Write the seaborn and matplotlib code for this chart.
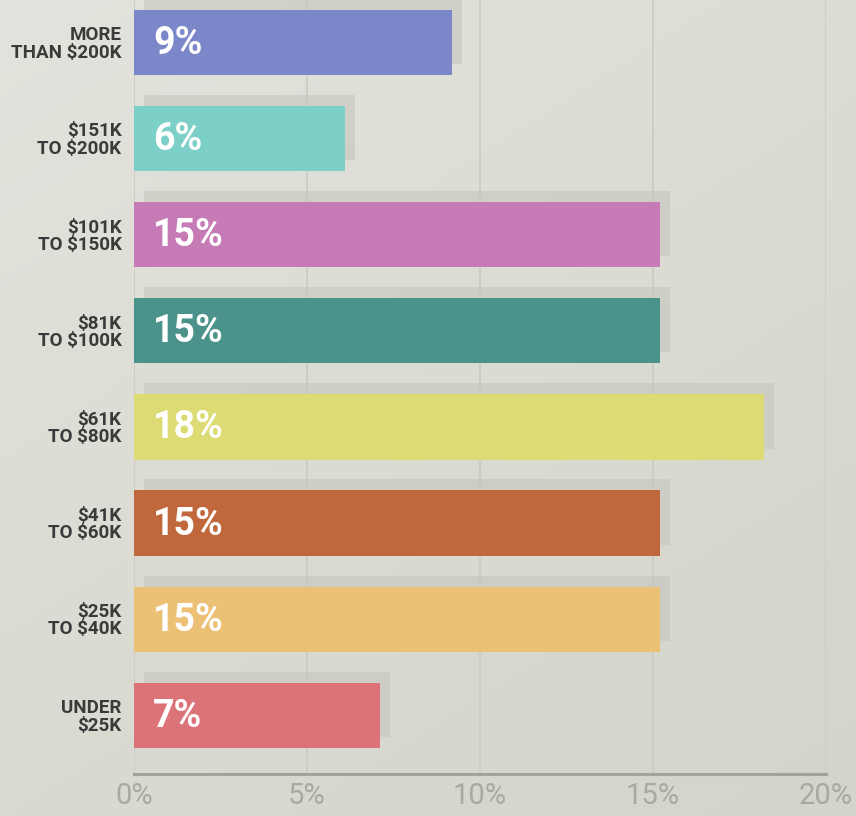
import numpy as np
import pandas as pd
import matplotlib.pyplot as plt
import matplotlib.transforms as mtransforms
from matplotlib.colors import LinearSegmentedColormap
import seaborn as sns

# Data
categories = ["MORE\nTHAN $200K", "$151K\nTO $200K", "$101K\nTO $150K", "$81K\nTO $100K",
              "$61K\nTO $80K", "$41K\nTO $60K", "$25K\nTO $40K", "UNDER\n$25K"]
shares = [9.2, 6.1, 15.2, 15.2, 18.2, 15.2, 15.2, 7.1]
share_labels = ["9%", "6%", "15%", "15%", "18%", "15%", "15%", "7%"]
bar_colors = ["#7b87c9", "#7dd0c8", "#c77bb6", "#4b938a",
              "#dcdb74", "#c0683b", "#ecc175", "#db7378"]
tick_values = [0, 5, 10, 15, 20]

df = pd.DataFrame({"band": categories, "share": shares})

sns.set_theme(style="white")
plt.rcParams['font.family'] = ['Roboto', 'DejaVu Sans']

fig = plt.figure(figsize=(8.56, 8.16), dpi=100)

# soft paper-like background
bg = fig.add_axes([0, 0, 1, 1], zorder=-5)
yy, xx = np.mgrid[0:1:200j, 0:1:200j]
grad = 0.6 * yy + 0.4 * xx
paper = LinearSegmentedColormap.from_list("paper", ["#e3e3dd", "#d4d4ca"])
bg.imshow(grad, aspect='auto', extent=[0, 1, 0, 1], cmap=paper, origin='upper')
bg.axis('off')

ax = fig.add_axes([134 / 856, 42 / 816, (826 - 134) / 856, 774 / 816])
ax.patch.set_alpha(0)

# shadows behind the bars (shifted up and right)
sns.barplot(data=df, x="share", y="band", color="#c4c4bc", width=0.68,
            saturation=1, ax=ax)
shift = mtransforms.ScaledTranslation(10 / 100, 11 / 100, fig.dpi_scale_trans)
for p in ax.patches:
    p.set_transform(ax.transData + shift)
    p.set_alpha(0.55)
    p.set_linewidth(0)
n_shadow = len(ax.patches)

# coloured bars
sns.barplot(data=df, x="share", y="band", hue="band", palette=bar_colors,
            width=0.68, saturation=1, legend=False, ax=ax)
for p in ax.patches[n_shadow:]:
    p.set_linewidth(0)

for i, lab in enumerate(share_labels):
    ax.annotate(lab, xy=(0, i), xytext=(19, -1), textcoords='offset pixels',
                ha='left', va='center', color='white', fontsize=27,
                fontweight='bold')

ax.set_xlim(0, 20)
ax.set_ylim(7.61, -0.44)
ax.set_xticks(tick_values)
ax.set_xticklabels([f"{v}%" for v in tick_values])
ax.set_xlabel("")
ax.set_ylabel("")

ax.grid(axis='x', color='#cbcbc3', linewidth=1.2)
ax.grid(axis='y', visible=False)
ax.set_axisbelow(True)

for side in ['top', 'right', 'left']:
    ax.spines[side].set_visible(False)
ax.spines['bottom'].set_color('#a3a39c')
ax.spines['bottom'].set_linewidth(2.2)
ax.spines['bottom'].set_bounds(0, 20)

ax.tick_params(axis='x', direction='in', length=11.5, width=1.6, color='#a3a39c',
               labelcolor='#a9a9a1', labelsize=21, pad=6)
ax.tick_params(axis='y', length=0, pad=9, labelcolor='#3a3a3a', labelsize=13.5)
for t in ax.get_yticklabels():
    t.set_fontweight('bold')
    t.set_linespacing(0.95)
    t.set_ha('right')
for t in ax.get_xticklabels():
    t.set_clip_on(False)

fig.savefig("out.png", dpi=100)
